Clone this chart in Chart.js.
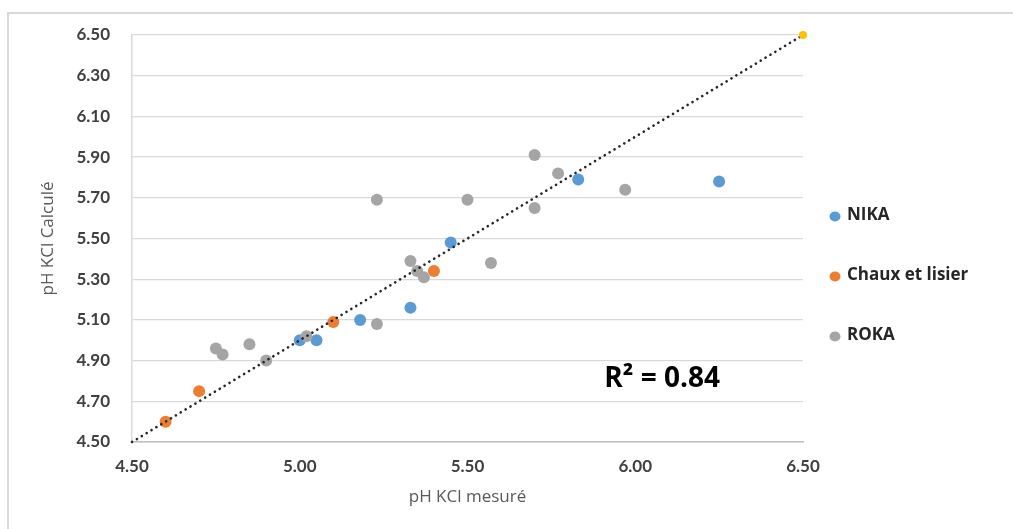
<!DOCTYPE html>
<html>
<head>
<meta charset="utf-8">
<script src="https://cdn.jsdelivr.net/npm/chart.js@4"></script>
<style>
  html, body { margin: 0; padding: 0; background: #ffffff; }
  #wrap { position: absolute; left: 0; top: 0; width: 1013px; height: 529px; }
  #frame { position: absolute; left: 7px; top: 12px; right: 0; bottom: 0;
           border-top: 2px solid #d9d9d9; border-left: 2px solid #d9d9d9; }
  canvas { position: absolute; left: 0; top: 0; }
</style>
</head>
<body>
<div id="wrap">
  <div id="frame"></div>
  <canvas id="c" width="1013" height="529"></canvas>
</div>
<script>
// ---- data ----
const nikaX  = [5.00, 5.05, 5.18, 5.33, 5.45, 5.83, 6.25];
const nikaY  = [5.00, 5.00, 5.10, 5.16, 5.48, 5.79, 5.78];

const chauxX = [4.60, 4.70, 5.10, 5.40];
const chauxY = [4.60, 4.75, 5.09, 5.34];

const rokaX  = [4.75, 4.77, 4.85, 4.90, 5.02, 5.23, 5.33, 5.35, 5.37, 5.57, 5.23, 5.50, 5.70, 5.77, 5.70, 5.97];
const rokaY  = [4.96, 4.93, 4.98, 4.90, 5.02, 5.08, 5.39, 5.34, 5.31, 5.38, 5.69, 5.69, 5.91, 5.82, 5.65, 5.74];

const refX   = [4.50, 6.50];
const refY   = [4.50, 6.50];

const seriesLabels = ['NIKA', 'Chaux et lisier', 'ROKA'];
const xTicks = [4.50, 5.00, 5.50, 6.00, 6.50];
const yTicks = [4.50, 4.70, 4.90, 5.10, 5.30, 5.50, 5.70, 5.90, 6.10, 6.30, 6.50];
const r2Text = 'R² = 0.84';
const r2Pos  = { x: 6.08, y: 4.81 };

const toPts = (xs, ys) => xs.map((x, i) => ({ x: x, y: ys[i] }));

const COLORS = { nika: '#5B9BD5', chaux: '#ED7D31', roka: '#A5A5A5', ref: '#FFC000' };
const FONT = 'Lato, "Open Sans", "DejaVu Sans", sans-serif';
const FONT2 = '"Open Sans", Lato, "DejaVu Sans", sans-serif';

const customLegend = {
  id: 'customLegend',
  afterDraw(chart) {
    const ctx = chart.ctx;
    const startY = 215, stepY = 60, markerX = 835, textX = 847;
    let k = 0;
    ctx.save();
    chart.data.datasets.forEach((ds) => {
      if (!ds.inLegend) return;
      const y = startY + k * stepY;
      ctx.beginPath();
      ctx.fillStyle = ds.backgroundColor;
      ctx.ellipse(markerX, y + 1.5, 5.5, 5, 0, 0, Math.PI * 2);
      ctx.fill();
      ctx.fillStyle = '#262626';
      ctx.font = 'bold 17px ' + FONT2;
      ctx.textBaseline = 'middle';
      ctx.textAlign = 'left';
      ctx.fillText(ds.label, textX, y);
      k++;
    });
    ctx.restore();
  }
};

const r2Label = {
  id: 'r2Label',
  afterDraw(chart) {
    const ctx = chart.ctx;
    const px = chart.scales.x.getPixelForValue(r2Pos.x);
    const py = chart.scales.y.getPixelForValue(r2Pos.y);
    ctx.save();
    ctx.font = 'bold 28px ' + FONT2;
    ctx.fillStyle = '#000000';
    ctx.textAlign = 'center';
    ctx.textBaseline = 'middle';
    ctx.fillText(r2Text, px, py);
    ctx.restore();
  }
};

new Chart(document.getElementById('c'), {
  type: 'scatter',
  data: {
    datasets: [
      {
        label: 'ref', inLegend: false, type: 'line',
        data: toPts(refX, refY), showLine: true, fill: false,
        borderColor: '#262626', borderWidth: 2.6, borderDash: [0.1, 5.6], borderCapStyle: 'round',
        pointRadius: [0, 4], pointBackgroundColor: COLORS.ref, pointBorderWidth: 0,
        pointHoverRadius: 0, clip: false, order: 0
      },
      {
        label: seriesLabels[0], inLegend: true, data: toPts(nikaX, nikaY),
        backgroundColor: COLORS.nika, borderWidth: 0, pointRadius: 6, order: 3
      },
      {
        label: seriesLabels[1], inLegend: true, data: toPts(chauxX, chauxY),
        backgroundColor: COLORS.chaux, borderWidth: 0, pointRadius: 6, order: 2
      },
      {
        label: seriesLabels[2], inLegend: true, data: toPts(rokaX, rokaY),
        backgroundColor: COLORS.roka, borderWidth: 0, pointRadius: 6, order: 1
      }
    ]
  },
  options: {
    responsive: false,
    animation: false,
    events: [],
    layout: { padding: { left: 36, top: 35, right: 210, bottom: 22 } },
    plugins: { legend: { display: false }, tooltip: { enabled: false } },
    scales: {
      x: {
        type: 'linear', min: 4.5, max: 6.5,
        afterBuildTicks: (s) => { s.ticks = xTicks.map(v => ({ value: v })); },
        afterFit: (s) => { s.height = 65; },
        grid: { display: false, drawTicks: false },
        border: { display: true, color: '#bfbfbf', width: 1.5 },
        ticks: {
          padding: 14, color: '#404040',
          font: { family: FONT, size: 17, weight: 'bold' },
          callback: (v) => Number(v).toFixed(2), maxRotation: 0
        },
        title: {
          display: true, text: 'pH KCl mesuré', color: '#595959',
          font: { family: FONT2, size: 17 }, padding: { top: 0, bottom: 0 }
        }
      },
      y: {
        type: 'linear', min: 4.5, max: 6.5,
        afterBuildTicks: (s) => { s.ticks = yTicks.map(v => ({ value: v })); },
        afterFit: (s) => { s.width = 96; },
        grid: { color: '#d9d9d9', lineWidth: 1.3, drawTicks: false },
        border: { display: true, color: '#d9d9d9', width: 1.5 },
        ticks: {
          padding: 22, color: '#404040',
          font: { family: FONT, size: 17, weight: 'bold' },
          callback: (v) => Number(v).toFixed(2)
        },
        title: {
          display: true, text: 'pH KCl Calculé', color: '#595959',
          font: { family: FONT2, size: 17 }, padding: { top: 2, bottom: 0 }
        }
      }
    }
  },
  plugins: [customLegend, r2Label]
});
</script>
</body>
</html>
